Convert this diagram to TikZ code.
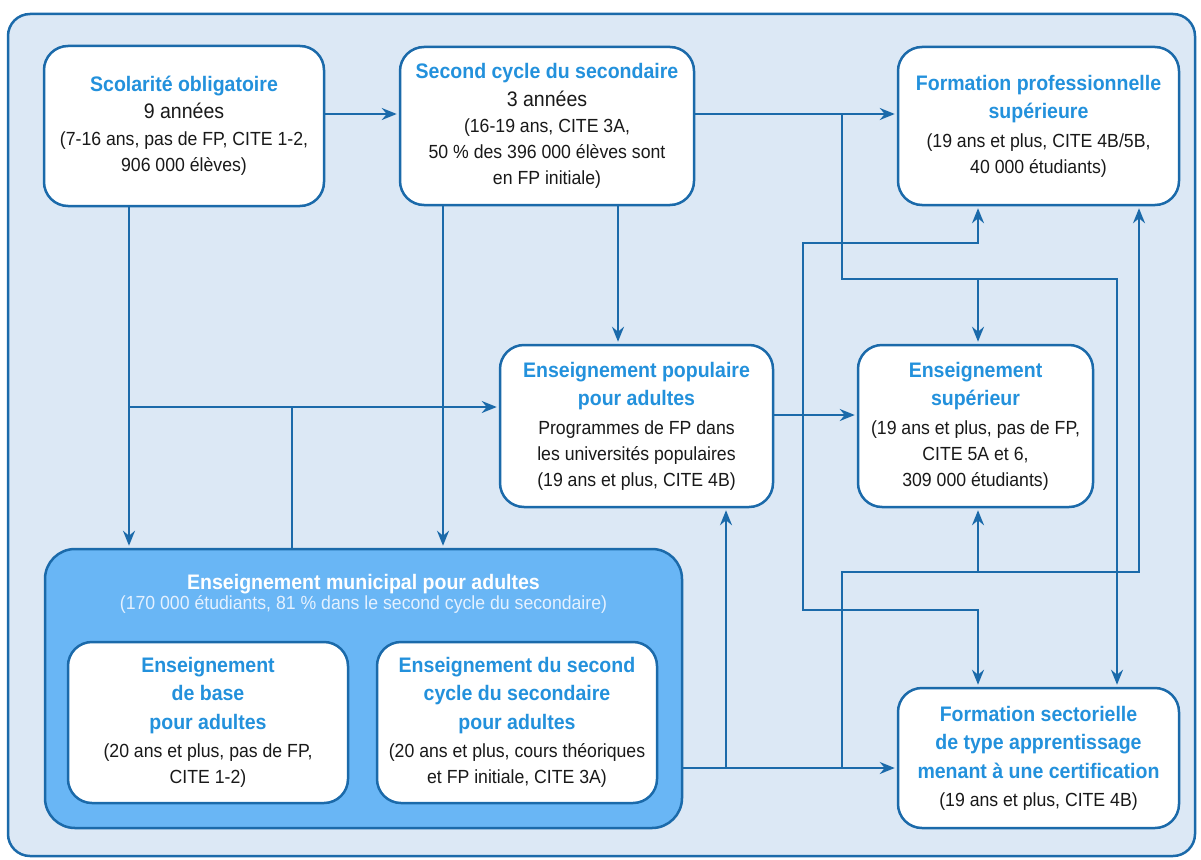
\documentclass[tikz,border=0pt]{standalone}
\usepackage{fontspec}
\setmainfont{Liberation Sans}[FakeStretch=0.93]
\usetikzlibrary{arrows.meta}
\definecolor{bgc}{RGB}{220,232,245}
\definecolor{linec}{RGB}{27,106,170}
\definecolor{titc}{RGB}{35,145,220}
\definecolor{munc}{RGB}{105,182,245}
\definecolor{mubc}{RGB}{228,241,255}
\definecolor{txtc}{RGB}{25,25,25}
\newcommand\ttl{\fontsize{21}{26}\bfseries\selectfont\color{titc}}
\newcommand\bdy{\fontsize{19}{26}\mdseries\selectfont\color{txtc}}
\newcommand\yrs{\fontsize{21}{26}\mdseries\selectfont\color{txtc}}
\begin{document}
\begin{tikzpicture}[x=1pt,y=-1pt,
  box/.style={draw=linec, line width=2.5pt, fill=white, rounded corners=24pt, align=center, inner sep=0pt, font=\fontsize{19}{26}\selectfont},
  conn/.style={draw=linec, line width=2.3pt},
  arr/.style={conn, -{Stealth[length=15pt,width=12pt,inset=5pt]}, shorten >=2pt},
  arrtwo/.style={conn, {Stealth[length=15pt,width=12pt,inset=5pt]}-{Stealth[length=15pt,width=12pt,inset=5pt]}, shorten >=2pt, shorten <=2pt}]
\useasboundingbox (0,0) rectangle (1201,859);
\draw[draw=linec, line width=2.5pt, fill=bgc, rounded corners=22pt] (8,14) rectangle (1195,856);

% helper coordinates
\coordinate (h114) at (0,114);
\coordinate (h243) at (0,243);
\coordinate (h279) at (0,279);
\coordinate (h407) at (0,407);
\coordinate (h415) at (0,415);
\coordinate (h572) at (0,572);
\coordinate (h610) at (0,610);
\coordinate (h768) at (0,768);
\coordinate (v129) at (129,0);
\coordinate (v292) at (292,0);
\coordinate (v443) at (443,0);
\coordinate (v618) at (618,0);
\coordinate (v726) at (726,0);
\coordinate (v803) at (803,0);
\coordinate (v842) at (842,0);
\coordinate (v978) at (978,0);
\coordinate (v1117) at (1117,0);
\coordinate (v1139) at (1139,0);

\node[box, minimum width=280pt, minimum height=160pt] (b1) at (184,126)
  {\ttl Scolarité obligatoire\\[1.5pt] \yrs 9 années\\[1pt] \bdy (7-16 ans, pas de FP, CITE 1-2,\\ \bdy 906 000 élèves)};
\node[box, minimum width=294pt, minimum height=158pt] (b2) at (547,126)
  {\ttl Second cycle du secondaire\\[2pt] \yrs 3 années\\[0pt] \bdy (16-19 ans, CITE 3A,\\ \bdy 50 \% des 396 000 élèves sont\\ \bdy en FP initiale)};
\node[box, minimum width=281pt, minimum height=158pt] (b3) at (1038.5,126)
  {\ttl Formation professionnelle\\[2.5pt] \ttl supérieure\\[2.5pt] \bdy (19 ans et plus, CITE 4B/5B,\\ \bdy 40 000 étudiants)};
\node[box, minimum width=273pt, minimum height=162pt] (ep) at (636.5,426)
  {\ttl Enseignement populaire\\[2.5pt] \ttl pour adultes\\[2.5pt] \bdy Programmes de FP dans\\ \bdy les universités populaires\\ \bdy (19 ans et plus, CITE 4B)};
\node[box, minimum width=235pt, minimum height=162pt] (es) at (975.5,426)
  {\ttl Enseignement\\[2.5pt] \ttl supérieur\\[2.5pt] \bdy (19 ans et plus, pas de FP,\\ \bdy CITE 5A et 6,\\ \bdy 309 000 étudiants)};
\node[draw=linec, line width=2.5pt, fill=munc, rounded corners=30pt, minimum width=637pt, minimum height=279pt, inner sep=0pt] (mun) at (363.5,688.5) {};
\node[align=center, inner sep=0pt] (munt) at (363.5,594)
  {\fontsize{21}{26}\bfseries\selectfont\color{white} Enseignement municipal pour adultes\\ \fontsize{19}{26}\mdseries\selectfont\color{mubc} (170 000 étudiants, 81 \% dans le second cycle du secondaire)};
\node[box, minimum width=280pt, minimum height=161pt] (eb) at (208,722.5)
  {\ttl Enseignement\\[2.5pt] \ttl de base\\[2.5pt] \ttl pour adultes\\[2.5pt] \bdy (20 ans et plus, pas de FP,\\ \bdy CITE 1-2)};
\node[box, minimum width=280pt, minimum height=161pt] (esa) at (517,722.5)
  {\ttl Enseignement du second\\[2.5pt] \ttl cycle du secondaire\\[2.5pt] \ttl pour adultes\\[2.5pt] \bdy (20 ans et plus, cours théoriques\\ \bdy et FP initiale, CITE 3A)};
\node[box, minimum width=281pt, minimum height=140pt] (fs) at (1038.5,758)
  {\ttl Formation sectorielle\\[2.5pt] \ttl de type apprentissage\\[2.5pt] \ttl menant à une certification\\[2pt] \bdy (19 ans et plus, CITE 4B)};

% connectors
\draw[arr] (b1.east |- h114) -- (b2.west |- h114);
\draw[arr] (b2.east |- h114) -- (b3.west |- h114);
\draw[arr] (v842 |- h114) -- (v842 |- h279) -- (v1117 |- h279) -- (fs.north -| v1117);
\draw[arr] (v978 |- h279) -- (es.north -| v978);
\draw[arr] (b1.south -| v129) -- (mun.north -| v129);
\draw[arr] (v129 |- h407) -- (ep.west |- h407);
\draw[conn] (mun.north -| v292) -- (v292 |- h407);
\draw[arr] (b2.south -| v443) -- (mun.north -| v443);
\draw[arr] (b2.south -| v618) -- (ep.north -| v618);
\draw[arr] (ep.east |- h415) -- (es.west |- h415);
\draw[arr] (mun.east |- h768) -- (fs.west |- h768);
\draw[arr] (v726 |- h768) -- (ep.south -| v726);
\draw[arr] (v842 |- h768) -- (v842 |- h572) -- (v1139 |- h572) -- (b3.south -| v1139);
\draw[arr] (v978 |- h572) -- (es.south -| v978);
\draw[arrtwo] (fs.north -| v978) -- (v978 |- h610) -- (v803 |- h610) -- (v803 |- h243) -- (v978 |- h243) -- (b3.south -| v978);
\end{tikzpicture}
\end{document}
